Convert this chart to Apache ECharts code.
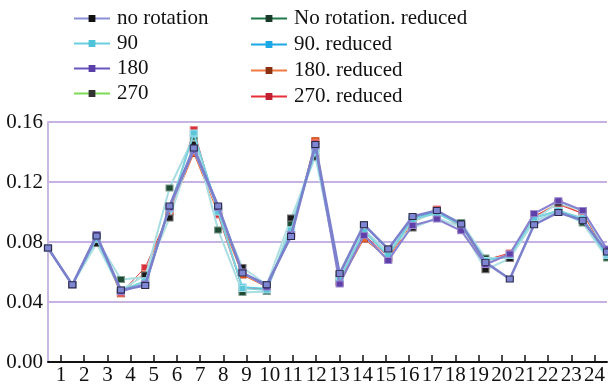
<!DOCTYPE html>
<html>
<head>
<meta charset="utf-8">
<script src="https://cdn.jsdelivr.net/npm/echarts@6/dist/echarts.min.js"></script>
<style>
  html, body { margin: 0; padding: 0; background: #fff; }
  #chart { width: 608px; height: 386px; }
</style>
</head>
<body>
<div id="chart"></div>
<script>
  // x categories
  var categories = ['1', '2', '3', '4', '5', '6', '7', '8', '9', '10', '11', '12',
    '13', '14', '15', '16', '17', '18', '19', '20', '21', '22', '23', '24']
  var yTicks = [0, 0.04, 0.08, 0.12, 0.16]

  // values
  var noRotation = [0.076, 0.0515, 0.084, 0.048, 0.051, 0.104, 0.1427, 0.104, 0.0593, 0.0515, 0.0837, 0.145,
    0.0589, 0.0915, 0.0753, 0.097, 0.101, 0.092, 0.0664, 0.0553, 0.0915, 0.0997, 0.0944, 0.0733]
  var rot90 = [0.076, 0.0515, 0.082, 0.048, 0.054, 0.103, 0.1527, 0.100, 0.049, 0.048, 0.088, 0.140,
    0.055, 0.087, 0.0709, 0.095, 0.099, 0.091, 0.0677, 0.0709, 0.096, 0.101, 0.096, 0.072]
  var rot180 = [0.076, 0.0515, 0.085, 0.047, 0.052, 0.103, 0.141, 0.103, 0.060, 0.050, 0.085, 0.144,
    0.052, 0.0844, 0.0677, 0.091, 0.0953, 0.0875, 0.065, 0.072, 0.0989, 0.1075, 0.101, 0.0753]
  var rot270 = [0.076, 0.0515, 0.079, 0.048, 0.058, 0.096, 0.145, 0.101, 0.063, 0.0515, 0.096, 0.1367,
    0.0589, 0.0915, 0.0753, 0.0893, 0.096, 0.090, 0.0615, 0.069, 0.095, 0.106, 0.101, 0.073]
  var noRotationReduced = [0.076, 0.0515, 0.082, 0.055, 0.0565, 0.116, 0.150, 0.088, 0.0464, 0.047, 0.092, 0.142,
    0.056, 0.088, 0.073, 0.094, 0.100, 0.093, 0.0693, 0.0693, 0.0937, 0.101, 0.0927, 0.0693]
  var rot90Reduced = [0.076, 0.0515, 0.082, 0.047, 0.054, 0.102, 0.152, 0.101, 0.050, 0.049, 0.088, 0.144,
    0.055, 0.087, 0.0709, 0.096, 0.100, 0.091, 0.0677, 0.0709, 0.096, 0.101, 0.095, 0.071]
  var rot180Reduced = [0.076, 0.0515, 0.082, 0.0455, 0.060, 0.100, 0.139, 0.099, 0.058, 0.050, 0.085, 0.1475,
    0.053, 0.082, 0.069, 0.093, 0.101, 0.089, 0.067, 0.072, 0.097, 0.106, 0.099, 0.072]
  var rot270Reduced = [0.076, 0.0515, 0.083, 0.046, 0.063, 0.100, 0.155, 0.098, 0.049, 0.049, 0.086, 0.146,
    0.054, 0.085, 0.070, 0.095, 0.102, 0.090, 0.068, 0.0727, 0.097, 0.105, 0.099, 0.072]

  var font = 'Liberation Serif'

  function line(name, data, lineColor, width, markColor, border, z) {
    return {
      name: name,
      type: 'line',
      data: data,
      z: z,
      symbol: 'rect',
      symbolSize: [7, 6],
      lineStyle: { color: lineColor, width: width },
      itemStyle: { color: markColor, borderColor: border, borderWidth: 1 },
      emphasis: { disabled: true }
    }
  }

  function legendItem(name, lineColor, markColor) {
    return {
      name: name,
      lineStyle: { color: lineColor, width: 2 },
      itemStyle: { color: markColor, borderColor: markColor }
    }
  }

  var legendText = { fontFamily: font, fontSize: 21, color: '#111', lineHeight: 20, padding: [0, 0, 0, 2] }

  var chart = echarts.init(document.getElementById('chart'))
  chart.setOption({
    animation: false,
    backgroundColor: '#fff',
    legend: [
      {
        orient: 'vertical',
        left: 68,
        top: 3,
        itemWidth: 36,
        itemHeight: 6,
        itemGap: 4,
        textStyle: legendText,
        data: [
          legendItem('no rotation', '#8a8fd8', '#111'),
          legendItem('90', '#6ad0e0', '#4fc3d8'),
          legendItem('180', '#6a56c0', '#5b3fa8'),
          legendItem('270', '#7ed957', '#333')
        ]
      },
      {
        orient: 'vertical',
        left: 245,
        top: 3,
        itemWidth: 36,
        itemHeight: 6,
        itemGap: 5,
        textStyle: legendText,
        data: [
          legendItem('No rotation. reduced', '#1f7a4a', '#1a3a2a'),
          legendItem('90. reduced', '#1aa8e6', '#1aa8e6'),
          legendItem('180. reduced', '#f07a40', '#8a3010'),
          legendItem('270. reduced', '#e8303a', '#c02030')
        ]
      }
    ],
    grid: [
      { left: 48, right: 1, top: 122, bottom: 24 },
      { left: 61, right: 11, top: 122, bottom: 24 }
    ],
    xAxis: [
      {
        type: 'category',
        gridIndex: 0,
        data: categories,
        boundaryGap: false,
        axisLine: { lineStyle: { color: '#111', width: 2 } },
        axisTick: { show: false },
        axisLabel: { show: false }
      },
      {
        type: 'category',
        gridIndex: 1,
        data: categories,
        boundaryGap: false,
        axisLine: { show: false },
        axisTick: { show: true, inside: true, length: 6, lineStyle: { color: '#111', width: 1.5 } },
        axisLabel: { fontFamily: font, fontSize: 21, color: '#111', margin: 4, interval: 0 }
      }
    ],
    yAxis: [
      {
        type: 'value',
        gridIndex: 0,
        min: yTicks[0],
        max: yTicks[yTicks.length - 1],
        interval: 0.04,
        axisLine: { show: true, lineStyle: { color: '#c9b8e2', width: 2 } },
        axisTick: { show: false },
        splitLine: { lineStyle: { color: '#b49ad8', width: 1.5 } },
        axisLabel: {
          fontFamily: font, fontSize: 21, color: '#111', margin: 5,
          formatter: function (v) { return v.toFixed(2) }
        }
      },
      {
        type: 'value',
        gridIndex: 1,
        min: 0,
        max: 1,
        show: false
      }
    ],
    series: [
      line('180. reduced', rot180Reduced, '#f06a30', 1, '#f06a30', '#c04010', 2),
      line('270. reduced', rot270Reduced, '#e03a40', 1, '#d83038', '#e88088', 2),
      line('No rotation. reduced', noRotationReduced, '#a8dde2', 2, '#1f4a34', '#7a9a8a', 3),
      line('270', rot270, '#b0e0e3', 2, '#1a1a1a', '#777', 3),
      line('90. reduced', rot90Reduced, '#5cc9dc', 1.5, '#3cbde0', '#8fd8ea', 4),
      line('90', rot90, '#7ed3de', 1.5, '#5cc6d8', '#a8e0ea', 4),
      line('180', rot180, '#8880d0', 2, '#5f3fa8', '#9a88d0', 5),
      line('no rotation', noRotation, '#7a80cc', 2.5, '#7f86d2', '#2a2a4a', 6)
    ]
  })
</script>
</body>
</html>
